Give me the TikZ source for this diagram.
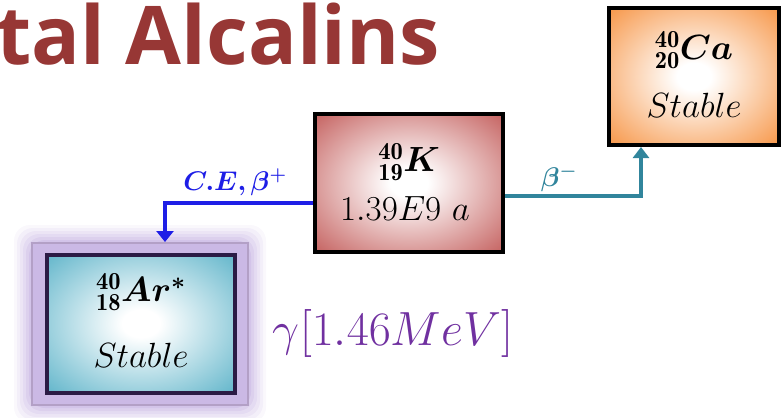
\documentclass[tikz,border=0pt]{standalone}
\RequirePackage{fix-cm}
\usepackage{amsmath,bm}
\usepackage{fontspec}
\newfontfamily\titlefont{Open Sans}
\usetikzlibrary{arrows.meta}
\definecolor{titlered}{HTML}{973735}
\definecolor{kred}{HTML}{C25A58}
\definecolor{caorange}{HTML}{F6913F}
\definecolor{arcyan}{HTML}{5AB2C8}
\definecolor{arborder}{HTML}{2B1B45}
\definecolor{glowpurple}{HTML}{B9A2DC}
\definecolor{framepurple}{HTML}{B3A0C6}
\definecolor{cebblue}{HTML}{1E1EE6}
\definecolor{betateal}{HTML}{31859C}
\definecolor{gammapurple}{HTML}{7030A0}
\pgfdeclareradialshading{kshade}{\pgfpoint{0bp}{0bp}}{color(0bp)=(white); color(5bp)=(white); color(37bp)=(kred); color(50bp)=(kred)}
\pgfdeclareradialshading{cashade}{\pgfpoint{0bp}{0bp}}{color(0bp)=(white); color(5bp)=(white); color(37bp)=(caorange); color(50bp)=(caorange)}
\pgfdeclareradialshading{arshade}{\pgfpoint{0bp}{0bp}}{color(0bp)=(white); color(5bp)=(white); color(37bp)=(arcyan); color(50bp)=(arcyan)}
\tikzset{
  nucbox/.style={draw=black, line width=4pt, minimum width=188pt, minimum height=138pt, inner sep=0pt},
  boxtext/.style={font=\fontsize{35}{40}\selectfont, inner sep=0pt},
  decay/.style={line width=4pt, line cap=butt},
}
\begin{document}
\begin{tikzpicture}[x=1pt,y=-1pt]
\useasboundingbox (0,0) rectangle (783,417);
% title
\node[anchor=base west, inner sep=0pt, text=titlered, font=\titlefont\bfseries\fontsize{81}{88}\selectfont] (title) at (-4,65) {tal Alcalins};
% glow around Ar box
\foreach \g/\o in {18/0.08,15/0.10,12/0.12,9/0.15,6/0.2,3/0.25}{
  \fill[glowpurple, opacity=\o, rounded corners=16pt] (32-\g,243-\g) rectangle (248+\g,405+\g);
}
\node[fill=glowpurple!75!white, draw=framepurple, line width=2pt, minimum width=216pt, minimum height=162pt, inner sep=0pt] (Arframe) at (140,324) {};
% boxes
\node[nucbox, shading=kshade] (K) at (409,183) {};
\node[nucbox, shading=cashade, minimum width=170pt, minimum height=137pt] (Ca) at (694,76.5) {};
\node[nucbox, draw=arborder, shading=arshade] (Ar) at (141,323.5) {};
% box texts
\node[boxtext] (Kname) at (409,162) {$\mathbf{{}^{40}_{19}}\bm{K}$};
\node[boxtext] (Klife) at (405,209) {$1.39E9\ a$};
\node[boxtext] (Caname) at (694,50) {$\mathbf{{}^{40}_{20}}\bm{Ca}$};
\node[boxtext] (Castab) at (694,105) {$Stable$};
\node[boxtext] (Arname) at (141,292) {$\mathbf{{}^{40}_{18}}\bm{Ar^{*}}$};
\node[boxtext] (Arstab) at (141,355) {$Stable$};
% decay arrows
\draw[decay, draw=cebblue, -{Triangle[width=17pt,length=11pt]}] ([yshift=-20pt]K.west) -| ([xshift=25pt]Arframe.north);
\draw[decay, draw=betateal, -{Triangle[width=16pt,length=11pt]}] ([yshift=-13pt]K.east) -| ([xshift=-53pt]Ca.south);
\node[text=cebblue, font=\fontsize{27}{30}\selectfont, inner sep=0pt] (celabel) at (235,182) {$\bm{C.E,\beta^{+}}$};
\node[text=betateal, font=\fontsize{27}{30}\selectfont, inner sep=0pt] (bmlabel) at (559,178) {$\bm{\beta^{-}}$};
% gamma
\node[text=gammapurple, font=\fontsize{48}{54}\selectfont, inner sep=0pt] (gamma) at (393,333) {$\gamma[1.46MeV]$};
\end{tikzpicture}
\end{document}
